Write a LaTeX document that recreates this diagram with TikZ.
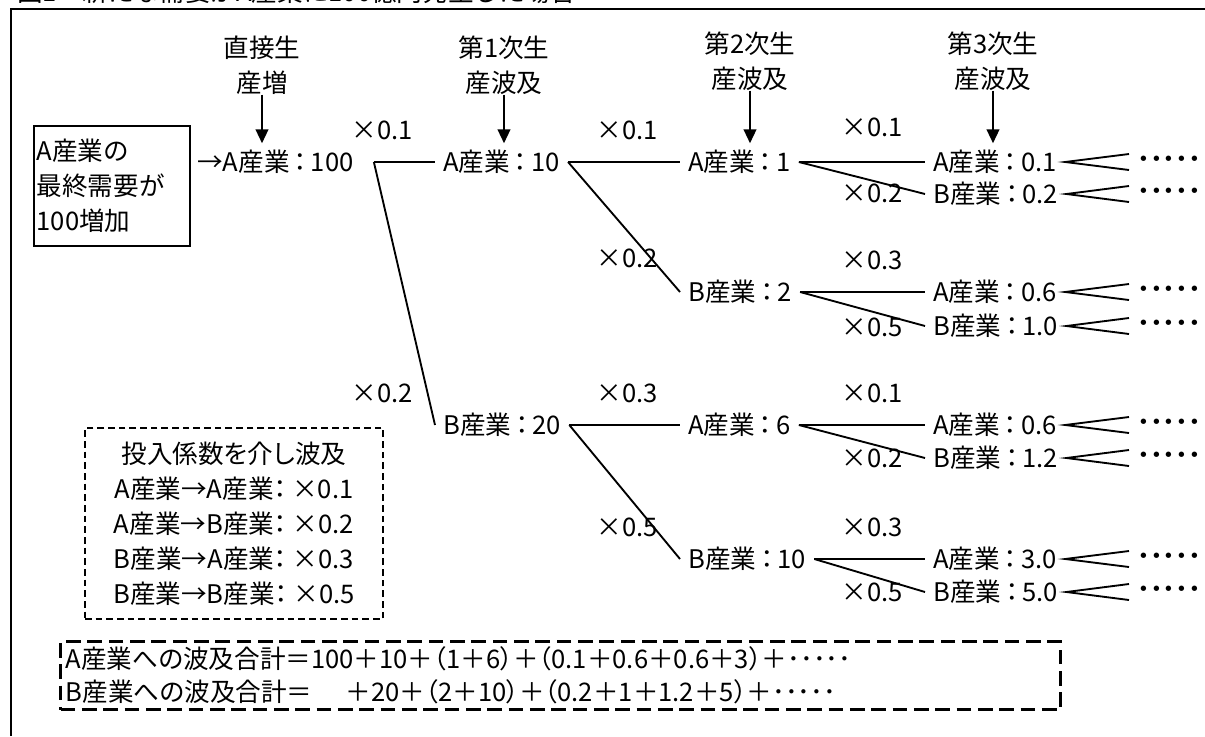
\documentclass[tikz,border=0pt]{standalone}
\usepackage{fontspec}
\setmainfont{Noto Sans CJK JP}
\newfontfamily\pjp{Noto Sans CJK JP}[RawFeature=+palt]
\newcommand\figsize{\fontsize{19.2pt}{26.25pt}\selectfont}
\usetikzlibrary{arrows.meta}

\begin{document}
\begin{tikzpicture}[x=0.75pt,y=-0.75pt,
  font=\figsize,
  ind/.style={inner xsep=6pt,inner ysep=5pt,anchor=west,font=\pjp\figsize},
  more/.style={ind,font=\bfseries\figsize},
  coef/.style={inner sep=0pt},
  head/.style={align=center,inner sep=0pt},
  link/.style={line width=1.4pt},
  down/.style={line width=1.6pt,-{Triangle[width=9.5pt,length=10.5pt]}}]
\useasboundingbox (0,0) rectangle (1205,736);
\draw[line width=1.5pt] (10.5,736) -- (10.5,8.5) -- (1205,8.5);
\node[anchor=base west,inner sep=0pt] (title) at (17,1.5) {図1　新たな需要がA産業に100億円発生した場合};

\node[head] (h0) at (262,65) {直接生\\産増};
\node[head] (h1) at (504,65) {第1次生\\産波及};
\node[head] (h2) at (750,61) {第2次生\\産波及};
\node[head] (h3) at (993,61) {第3次生\\産波及};

\node[draw,line width=1.5pt,anchor=north west,align=left,text width=113pt,inner xsep=2pt,minimum height=90pt] (demand) at (33,125) {A産業の\\最終需要が\\100増加};

\node[ind] (a100) at (189,162) {→A産業\,：\,100};
\node[ind] (a10) at (435,162) {A産業\,：\,10};
\node[ind] (b20) at (435,425) {B産業\,：\,20};
\node[ind] (a1) at (680,162) {A産業\,：\,1};
\node[ind] (b2) at (680,292) {B産業\,：\,2};
\node[ind] (a6) at (680,425) {A産業\,：\,6};
\node[ind] (b10) at (680,559) {B産業\,：\,10};

\node[ind] (a1a) at (925,162) {A産業\,：\,0.1};
\node[ind] (a1b) at (925,194) {B産業\,：\,0.2};
\node[ind] (b2a) at (925,292) {A産業\,：\,0.6};
\node[ind] (b2b) at (925,326) {B産業\,：\,1.0};
\node[ind] (a6a) at (925,425) {A産業\,：\,0.6};
\node[ind] (a6b) at (925,458) {B産業\,：\,1.2};
\node[ind] (b10a) at (925,559) {A産業\,：\,3.0};
\node[ind] (b10b) at (925,592) {B産業\,：\,5.0};

\node[more] (da1a) at (1129,162) {･････};
\node[more] (da1b) at (1129,194) {･････};
\node[more] (db2a) at (1129,292) {･････};
\node[more] (db2b) at (1129,326) {･････};
\node[more] (da6a) at (1129,425) {･････};
\node[more] (da6b) at (1129,458) {･････};
\node[more] (db10a) at (1129,559) {･････};
\node[more] (db10b) at (1129,592) {･････};

\node[coef] (c01) at (382,130) {×0.1};
\node[coef] (c02) at (382,393) {×0.2};
\node[coef] (c11) at (627,130) {×0.1};
\node[coef] (c12) at (627,258) {×0.2};
\node[coef] (c21) at (627,393) {×0.3};
\node[coef] (c22) at (627,527) {×0.5};
\node[coef] (c1a) at (872,127) {×0.1};
\node[coef] (c1b) at (872,193) {×0.2};
\node[coef] (c2a) at (872,260) {×0.3};
\node[coef] (c2b) at (872,327) {×0.5};
\node[coef] (c6a) at (872,393) {×0.1};
\node[coef] (c6b) at (872,458) {×0.2};
\node[coef] (c10a) at (872,527) {×0.3};
\node[coef] (c10b) at (872,592) {×0.5};

\draw[down] (h0.south) -- (h0.south |- a100.north);
\draw[down] (h1.south) -- (h1.south |- a10.north);
\draw[down] (h2.south) -- (h2.south |- a1.north);
\draw[down] (h3.south) -- (h3.south |- a1a.north);

\draw[link] ([xshift=9pt]a100.east) -- (a10.west);
\draw[link] ([xshift=9pt]a100.east) -- (b20.west);
\draw[link] (a10.east) -- (a1.west);
\draw[link] (a10.east) -- (b2.west);
\draw[link] (b20.east) -- (a6.west);
\draw[link] (b20.east) -- (b10.west);
\draw[link] (a1.east) -- (a1a.west);
\draw[link] (a1.east) -- (a1b.west);
\draw[link] (b2.east) -- (b2a.west);
\draw[link] (b2.east) -- (b2b.west);
\draw[link] (a6.east) -- (a6a.west);
\draw[link] (a6.east) -- (a6b.west);
\draw[link] (b10.east) -- (b10a.west);
\draw[link] (b10.east) -- (b10b.west);

\draw[link] ([yshift=6pt]da1a.west) -- (a1a.east) -- ([yshift=-6pt]da1a.west);
\draw[link] ([yshift=6pt]da1b.west) -- (a1b.east) -- ([yshift=-6pt]da1b.west);
\draw[link] ([yshift=6pt]db2a.west) -- (b2a.east) -- ([yshift=-6pt]db2a.west);
\draw[link] ([yshift=6pt]db2b.west) -- (b2b.east) -- ([yshift=-6pt]db2b.west);
\draw[link] ([yshift=6pt]da6a.west) -- (a6a.east) -- ([yshift=-6pt]da6a.west);
\draw[link] ([yshift=6pt]da6b.west) -- (a6b.east) -- ([yshift=-6pt]da6b.west);
\draw[link] ([yshift=6pt]db10a.west) -- (b10a.east) -- ([yshift=-6pt]db10a.west);
\draw[link] ([yshift=6pt]db10b.west) -- (b10b.east) -- ([yshift=-6pt]db10b.west);

\node[draw,line width=1.5pt,dash pattern=on 5pt off 3pt,align=center,minimum width=223.5pt,minimum height=143.25pt,font=\pjp\figsize] (key) at (234,523.5) {投入係数を介し波及\\A産業→A産業： ×0.1\\A産業→B産業： ×0.2\\B産業→A産業： ×0.3\\B産業→B産業： ×0.5};

\node[draw,line width=2.25pt,dash pattern=on 11pt off 5pt,anchor=north west,align=left,text width=742pt,inner xsep=4pt,inner ysep=2pt,minimum height=51pt,font=\pjp\figsize] (total) at (59,640) {A産業への波及合計＝100＋10＋（1＋6）＋（0.1＋0.6＋0.6＋3）＋･････\\[-1.5pt]B産業への波及合計＝\hspace{1.3em}＋20＋（2＋10）＋（0.2＋1＋1.2＋5）＋･････};
\end{tikzpicture}
\end{document}
